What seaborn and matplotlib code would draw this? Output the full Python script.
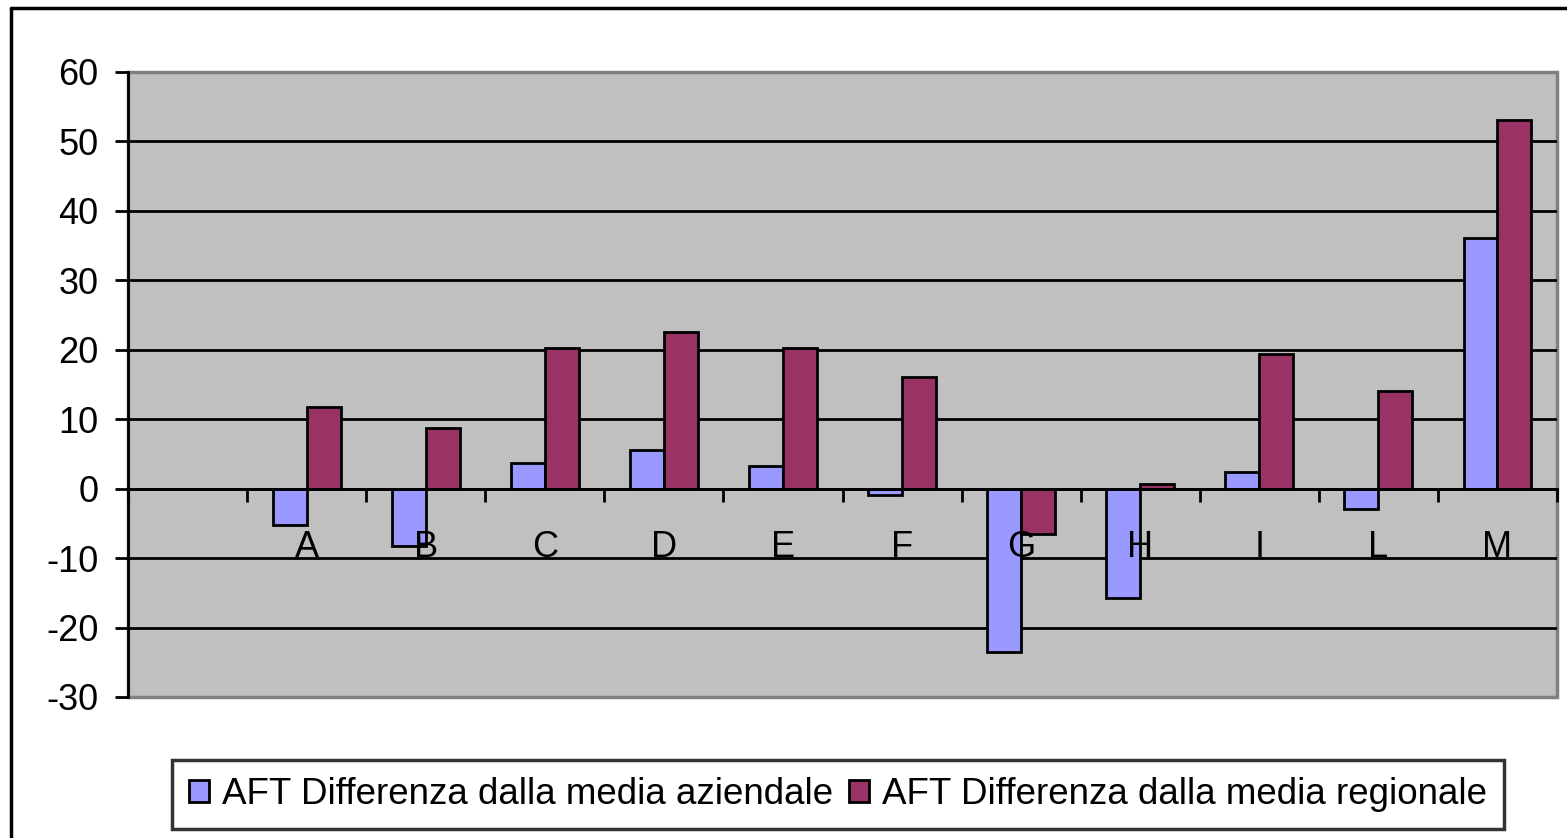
import numpy as np
import pandas as pd
import matplotlib
matplotlib.use("Agg")
import matplotlib.pyplot as plt
from matplotlib.patches import Patch
from matplotlib.lines import Line2D
import seaborn as sns

# Categories and series values
categories = ["A", "B", "C", "D", "E", "F", "G", "H", "I", "L", "M"]
series_names = ["AFT Differenza dalla media aziendale",
                "AFT Differenza dalla media regionale"]
aziendale = [-5.2, -8.2, 3.7, 5.5, 3.3, -0.9, -23.5, -15.8, 2.4, -3.0, 36.1]
regionale = [11.8, 8.8, 20.3, 22.5, 20.3, 16.1, -6.5, 0.7, 19.4, 14.0, 53.1]
y_ticks = [-30, -20, -10, 0, 10, 20, 30, 40, 50, 60]

colors = ["#9999FF", "#993366"]

df = pd.DataFrame({
    "categoria": categories * 2,
    "serie": [series_names[0]] * len(categories) + [series_names[1]] * len(categories),
    "valore": aziendale + regionale,
})

sns.set_theme(style="white")
plt.rcParams["font.family"] = ["Liberation Sans", "DejaVu Sans"]

W, H = 1567, 838
fig = plt.figure(figsize=(W / 100, H / 100), dpi=100)
ax = fig.add_axes([128 / W, 1 - 697 / H, (1557 - 128) / W, (697 - 72) / H])

sns.barplot(data=df, x="categoria", y="valore", hue="serie", order=categories,
            hue_order=series_names, palette=colors, saturation=1, width=0.57,
            edgecolor="black", linewidth=2, errorbar=None, legend=False, ax=ax)

# Plot area: grey background with a grey frame, one empty slot on the left
ax.set_facecolor("#C0C0C0")
ax.patch.set_edgecolor("#808080")
ax.patch.set_linewidth(2.5)
ax.set_xlim(-1.5, len(categories) - 0.5)
ax.set_ylim(y_ticks[0], y_ticks[-1])
ax.set_xlabel("")
ax.set_ylabel("")

ax.set_yticks(y_ticks)
ax.set_yticklabels([str(t) for t in y_ticks])
ax.yaxis.grid(True, color="black", linewidth=2)
ax.xaxis.grid(False)
ax.set_axisbelow(True)
gl = ax.get_ygridlines()
gl[0].set_visible(False)
gl[-1].set_visible(False)
# category labels sit on top of the bars
ax.xaxis.set_zorder(5)

for s in ["top", "right"]:
    ax.spines[s].set_visible(False)
ax.spines["left"].set_color("black")
ax.spines["left"].set_linewidth(2)
ax.spines["bottom"].set_position(("data", 0))
ax.spines["bottom"].set_color("black")
ax.spines["bottom"].set_linewidth(2)

ax.tick_params(axis="y", which="major", left=True, length=9.4, width=2,
               color="black", labelsize=26, pad=12, labelcolor="black")
ax.tick_params(axis="x", which="major", bottom=True, length=0, labelsize=26,
               pad=30, labelcolor="black")
ax.set_xticks(np.arange(-1.5, len(categories), 1.0), minor=True)
ax.tick_params(axis="x", which="minor", bottom=True, length=9.4, width=2,
               color="black", direction="out")

# Legend below the plot area
handles = [Patch(facecolor=c, edgecolor="black", linewidth=2) for c in colors]
leg = fig.legend(handles, series_names, loc="center", bbox_to_anchor=(838 / W, 1 - 794.5 / H),
                 ncol=2, fontsize=26.5, frameon=True, fancybox=False,
                 handlelength=0.54, handleheight=0.54, handletextpad=0.35,
                 columnspacing=0.45, borderpad=0.45)
leg.get_frame().set_edgecolor("black")
leg.get_frame().set_linewidth(2.5)
for t in leg.get_texts():
    t.set_color("black")

# Outer chart frame (top and left edges)
fig.add_artist(Line2D([11 / W, 11 / W], [0, 1 - 8 / H], color="black", linewidth=2.5,
                      transform=fig.transFigure))
fig.add_artist(Line2D([11 / W, 1], [1 - 8 / H, 1 - 8 / H], color="black", linewidth=2.5,
                      transform=fig.transFigure))

fig.savefig("out.png", dpi=100, facecolor="white")
